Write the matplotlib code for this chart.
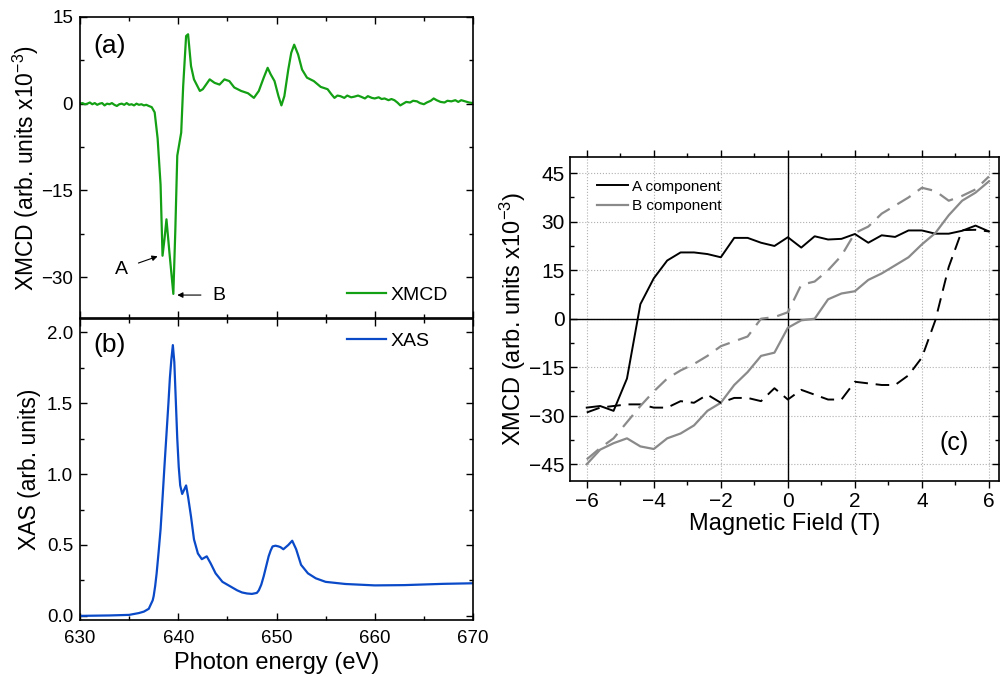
import matplotlib
matplotlib.use("Agg")
import matplotlib.pyplot as plt
import numpy as np

plt.rcParams['font.family'] = ['Liberation Sans', 'DejaVu Sans']
plt.rcParams['mathtext.default'] = 'regular'

# (a) XMCD spectrum
e_xmcd = [630.0, 630.25, 630.5, 630.75, 631.0, 631.25, 631.5, 631.75, 632.0, 632.25,
          632.5, 632.75, 633.0, 633.25, 633.5, 633.75, 634.0, 634.25, 634.5, 634.75,
          635.0, 635.25, 635.5, 635.75, 636.0, 636.25, 636.5, 636.75, 637.0, 637.3,
          637.6, 637.9, 638.2, 638.4, 638.6, 638.8, 639.1, 639.5, 639.7, 639.9,
          640.3, 640.5, 640.8, 641.0, 641.3, 641.6, 642.2, 642.5, 643.2, 643.7,
          644.2, 644.7, 645.2, 645.7, 646.4, 647.1, 647.7, 648.2, 648.7, 649.1,
          649.4, 649.8, 650.2, 650.5, 650.8, 651.2, 651.5, 651.8, 652.2, 652.6,
          653.1, 653.8, 654.5, 655.2, 655.6, 655.9, 656.2, 656.5, 656.9, 657.2,
          657.6, 657.9, 658.3, 658.6, 659.0, 659.3, 659.7, 660.0, 660.4, 660.7,
          661.0, 661.4, 661.7, 662.0, 662.3, 662.6, 662.9, 663.2, 663.6, 663.9,
          664.3, 664.6, 665.0, 665.3, 665.7, 666.0, 666.3, 666.7, 667.1, 667.4,
          667.8, 668.2, 668.5, 668.8, 669.2, 669.6, 670.0]
xmcd = [0.0, 0.1, -0.1, 0.0, 0.2, -0.1, 0.1, -0.2, 0.0, 0.1,
        -0.3, 0.0, -0.1, 0.1, -0.2, -0.4, -0.1, 0.0, -0.2, 0.1,
        -0.2, -0.1, -0.3, 0.0, -0.2, -0.1, -0.3, -0.2, -0.4, -0.6,
        -1.5, -6.0, -14.0, -26.3, -23.4, -20.0, -25.7, -32.9, -22.0, -9.0,
        -5.0, 3.0, 11.7, 12.0, 6.5, 4.2, 2.2, 2.5, 4.2, 3.6,
        3.3, 4.2, 3.9, 2.8, 2.2, 1.8, 1.0, 2.2, 4.5, 6.2,
        5.1, 3.9, 1.3, -0.3, 1.3, 5.9, 8.8, 10.2, 8.5, 5.9,
        4.5, 3.9, 2.9, 2.5, 1.6, 1.0, 1.4, 1.3, 1.0, 1.4,
        1.1, 1.2, 1.4, 1.2, 0.9, 1.3, 1.0, 0.9, 1.1, 0.8,
        0.9, 0.6, 0.8, 0.6, 0.2, -0.3, 0.0, 0.3, 0.2, 0.5,
        0.4, 0.1, -0.1, 0.2, 0.5, 0.9, 0.6, 0.3, 0.2, 0.5,
        0.4, 0.6, 0.3, 0.6, 0.4, 0.2, 0.1]

# (b) XAS spectrum
e_xas = [630.0, 633.0, 635.0, 636.0, 636.5, 637.0, 637.2, 637.4, 637.5, 637.65,
         637.8, 638.0, 638.2, 638.4, 638.6, 638.8, 639.0, 639.15, 639.3, 639.45,
         639.6, 639.75, 639.9, 640.05, 640.2, 640.4, 640.6, 640.8, 641.0, 641.3,
         641.6, 642.0, 642.4, 642.9, 643.3, 643.8, 644.5, 645.0, 645.5, 646.0,
         646.5, 647.0, 647.5, 648.0, 648.2, 648.45, 648.7, 648.95, 649.2, 649.4,
         649.6, 649.9, 650.2, 650.4, 650.7, 651.2, 651.6, 652.0, 652.5, 653.2,
         654.0, 655.0, 657.0, 660.0, 663.0, 667.0, 670.0]
xas = [0.0, 0.003, 0.007, 0.02, 0.03, 0.05, 0.08, 0.11, 0.14, 0.21,
       0.30, 0.45, 0.61, 0.83, 1.06, 1.28, 1.50, 1.68, 1.81, 1.91,
       1.79, 1.52, 1.25, 1.05, 0.92, 0.86, 0.89, 0.92, 0.84, 0.70,
       0.54, 0.44, 0.40, 0.42, 0.37, 0.30, 0.24, 0.22, 0.20, 0.18,
       0.165, 0.158, 0.155, 0.162, 0.18, 0.22, 0.28, 0.35, 0.42, 0.46,
       0.49, 0.495, 0.49, 0.485, 0.47, 0.50, 0.53, 0.47, 0.36, 0.30,
       0.265, 0.24, 0.225, 0.215, 0.217, 0.226, 0.23]

# (c) hysteresis loops
field = [-6.0, -5.6, -5.2, -4.8, -4.4, -4.0, -3.6, -3.2, -2.8, -2.4, -2.0,
         -1.6, -1.2, -0.8, -0.4, 0.0, 0.4, 0.8, 1.2, 1.6, 2.0,
         2.4, 2.8, 3.2, 3.6, 4.0, 4.4, 4.8, 5.2, 5.6, 6.0]
a_down = [-27.5, -27.0, -28.5, -18.5, 4.5, 12.5, 18.0, 20.5, 20.5, 20.0, 19.0,
          25.0, 25.0, 23.5, 22.5, 25.2, 22.0, 25.5, 24.5, 24.7, 26.2,
          23.5, 25.8, 25.3, 27.3, 27.3, 26.3, 26.3, 27.2, 28.8, 27.0]
a_up = [-29.0, -27.5, -27.0, -26.5, -26.5, -27.5, -27.5, -25.5, -26.0, -23.5, -26.0,
        -24.5, -24.5, -25.5, -21.5, -25.0, -22.0, -23.5, -25.0, -25.0, -19.5,
        -20.0, -20.5, -20.5, -17.5, -12.0, -0.5, 16.0, 27.4, 27.5, 27.0]
b_down = [-45.0, -40.5, -38.5, -37.0, -39.5, -40.3, -37.0, -35.5, -33.0, -28.5, -26.0,
          -20.5, -16.5, -11.5, -10.5, -2.8, -0.5, 0.0, 6.0, 7.8, 8.5,
          12.0, 14.0, 16.5, 19.0, 23.0, 26.5, 32.0, 36.5, 39.0, 42.5]
b_up = [-43.5, -40.0, -37.0, -32.0, -27.0, -22.5, -18.5, -16.0, -14.0, -11.5, -8.5,
        -7.0, -5.5, 0.0, 0.5, 2.0, 10.5, 11.5, 15.0, 19.5, 26.5,
        28.5, 32.5, 35.0, 37.5, 40.5, 39.5, 36.5, 38.0, 40.0, 44.0]

green = '#14a014'
blue = '#0a4ac8'
grey = '#8a8a8a'

fig = plt.figure(figsize=(10, 6.77), dpi=100)
ax1 = fig.add_axes([0.08, 0.530, 0.393, 0.445])
ax2 = fig.add_axes([0.08, 0.084, 0.393, 0.445])
ax3 = fig.add_axes([0.570, 0.2895, 0.429, 0.4785])

for ax in (ax1, ax2):
    ax.tick_params(which='both', direction='in', top=True, right=True, labelsize=13.5)
    ax.tick_params(axis='y', pad=5)
    ax.tick_params(axis='x', pad=7)
    ax.tick_params(which='major', length=5, width=1)
    ax.tick_params(which='minor', length=3, width=1)
    ax.set_xlim(630, 670)
    ax.set_xticks([630, 640, 650, 660, 670])
    ax.set_xticks([635, 645, 655, 665], minor=True)
    for s in ax.spines.values():
        s.set_linewidth(1.2)

# (a)
ax1.plot(e_xmcd, xmcd, color=green, lw=1.6, label='XMCD')
ax1.set_ylim(-37.1, 15)
ax1.set_yticks([-30, -15, 0, 15])
ax1.set_yticks([-22.5, -7.5, 7.5], minor=True)
ax1.tick_params(axis='x', labelbottom=False)
ax1.set_ylabel('XMCD (arb. units x10$^{-3}$)', fontsize=16.5)
ax1.yaxis.set_label_coords(-0.1, 0.5)
ax1.text(0.035, 0.905, '(a)', transform=ax1.transAxes, fontsize=19, va='center', ha='left')
ax1.legend(loc='center left', bbox_to_anchor=(0.68, 0.076), frameon=False, fontsize=14,
           handlelength=2.0, handletextpad=0.25, borderpad=0, borderaxespad=0)
ax1.annotate('A', xy=(637.9, -26.4), xytext=(634.2, -28.6), fontsize=14,
             ha='center', va='center',
             arrowprops=dict(arrowstyle='-|>', color='k', lw=0.8, mutation_scale=8, shrinkA=6, shrinkB=0))
ax1.annotate('B', xy=(639.9, -33.1), xytext=(644.1, -33.1), fontsize=14,
             ha='center', va='center',
             arrowprops=dict(arrowstyle='-|>', color='k', lw=0.8, mutation_scale=8, shrinkA=6, shrinkB=0))

# (b)
ax2.plot(e_xas, xas, color=blue, lw=1.6, label='XAS')
ax2.set_ylim(-0.03, 2.095)
ax2.set_yticks([0.0, 0.5, 1.0, 1.5, 2.0])
ax2.set_yticks([0.25, 0.75, 1.25, 1.75], minor=True)
ax2.set_xlabel('Photon energy (eV)', fontsize=17)
ax2.xaxis.set_label_coords(0.5, -0.105)
ax2.set_ylabel('XAS (arb. units)', fontsize=16.5)
ax2.yaxis.set_label_coords(-0.1, 0.5)
ax2.text(0.035, 0.914, '(b)', transform=ax2.transAxes, fontsize=19, va='center', ha='left')
ax2.legend(loc='center left', bbox_to_anchor=(0.68, 0.927), frameon=False, fontsize=14,
           handlelength=2.0, handletextpad=0.25, borderpad=0, borderaxespad=0)

# (c)
ax3.grid(True, which='major', color='#b0b0b0', linestyle=':', lw=0.8)
ax3.set_axisbelow(True)
ax3.axhline(0, color='k', lw=1.0, zorder=1)
ax3.axvline(0, color='k', lw=1.0, zorder=1)
ax3.plot(field, a_down, color='k', lw=1.4, label='A component')
ax3.plot(field, b_down, color=grey, lw=1.6, label='B component')
ax3.plot(field, a_up, color='k', lw=1.4, ls=(0, (7, 4)))
ax3.plot(field, b_up, color=grey, lw=1.6, ls=(0, (7, 4)))
ax3.set_xlim(-6.5, 6.3)
ax3.set_ylim(-50.2, 50)
ax3.set_xticks([-6, -4, -2, 0, 2, 4, 6])
ax3.set_xticks([-5, -3, -1, 1, 3, 5], minor=True)
ax3.set_yticks([-45, -30, -15, 0, 15, 30, 45])
ax3.set_yticks([-37.5, -22.5, -7.5, 7.5, 22.5, 37.5], minor=True)
ax3.tick_params(which='both', direction='in', top=True, right=True, labelsize=15)
ax3.tick_params(axis='x', which='both', direction='out', pad=3)
ax3.tick_params(axis='y', pad=4)
ax3.tick_params(which='major', length=5, width=1)
ax3.tick_params(which='minor', length=3, width=1)
for s in ax3.spines.values():
    s.set_linewidth(1.2)
ax3.set_xlabel('Magnetic Field (T)', fontsize=17)
ax3.xaxis.set_label_coords(0.5, -0.1)
ax3.set_ylabel('XMCD (arb. units x10$^{-3}$)', fontsize=17)
ax3.yaxis.set_label_coords(-0.097, 0.5)
ax3.text(0.895, 0.117, '(c)', transform=ax3.transAxes, fontsize=18, va='center', ha='center')
ax3.legend(loc='center left', bbox_to_anchor=(0.063, 0.878), frameon=False, fontsize=11,
           handlelength=2.0, handletextpad=0.26, labelspacing=0.37, borderpad=0, borderaxespad=0)

fig.savefig('out.png', dpi=100)
